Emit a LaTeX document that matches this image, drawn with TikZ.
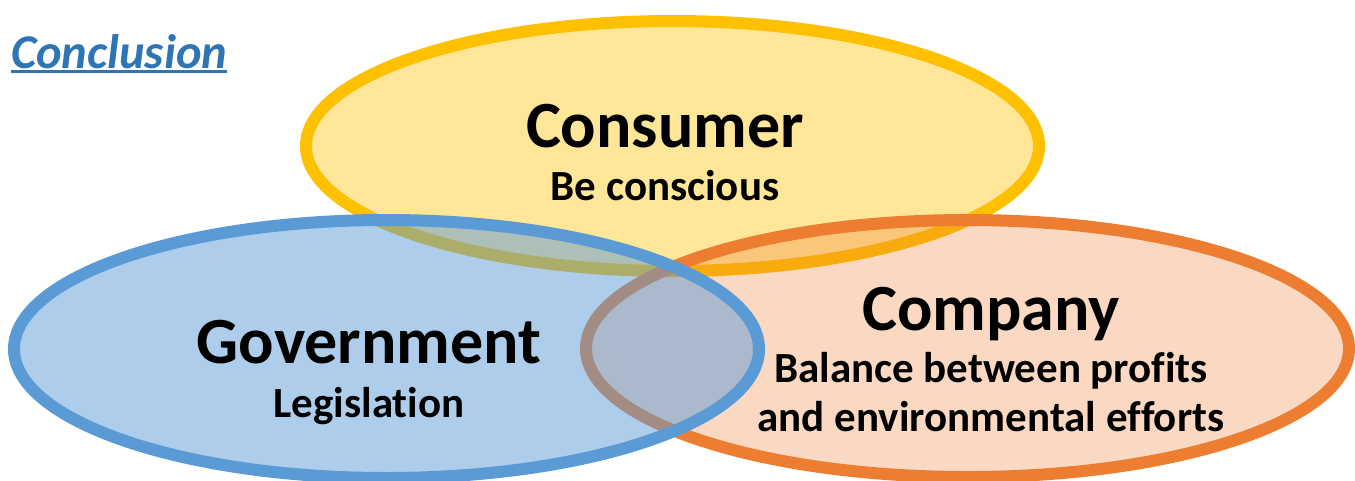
\documentclass[tikz,border=0pt]{standalone}
\usepackage{fontspec}
\setmainfont{Carlito}[Ligatures=NoCommon]
\definecolor{cyel}{HTML}{FFC000}
\definecolor{cblue}{HTML}{5B9BD5}
\definecolor{corange}{HTML}{ED7D31}
\definecolor{ctitle}{HTML}{2E75B6}
\tikzset{
  ring/.style={line width=12pt, draw opacity=1},
  bigtext/.style={anchor=base, inner sep=0pt, font=\fontsize{66}{70}\selectfont\bfseries},
  subtext/.style={anchor=base, inner sep=0pt, font=\fontsize{43}{48}\selectfont\bfseries},
}
\begin{document}
\begin{tikzpicture}[x=1pt,y=-1pt]
\useasboundingbox (0,0) rectangle (1355,480);
\clip (0,0) rectangle (1355,480);
% Consumer
\draw[ring, draw=cyel, fill=cyel, fill opacity=0.4] (672.5,146) ellipse [x radius=366.5, y radius=125];
% Company
\draw[ring, draw=corange, fill=corange, fill opacity=0.3] (967.5,348.5) ellipse [x radius=381.5, y radius=128.5];
% Government
\draw[ring, draw=cblue, fill=cblue, fill opacity=0.5] (386.5,349) ellipse [x radius=372.5, y radius=129];
% texts
\node[anchor=base west, inner sep=0pt, text=ctitle, font=\fontsize{48.5}{52}\selectfont\bfseries\itshape] (concl) at (11,68) {Conclusion};
\draw[ctitle, line width=3pt] (concl.base west) ++(0,3.5) -- ([yshift=-3.5pt]concl.base east);
\node[bigtext] (cons) at (665,147) {Consumer};
\node[subtext] (consub) at (665,200) {Be conscious};
\node[bigtext] (gov) at (369,363) {Government};
\node[subtext] (govsub) at (369,417) {Legislation};
\node[bigtext] (comp) at (991,330) {Company};
\node[subtext] (compsub1) at (991,382) {Balance between profits};
\node[subtext] (compsub2) at (991,431) {and environmental efforts};
\end{tikzpicture}
\end{document}
